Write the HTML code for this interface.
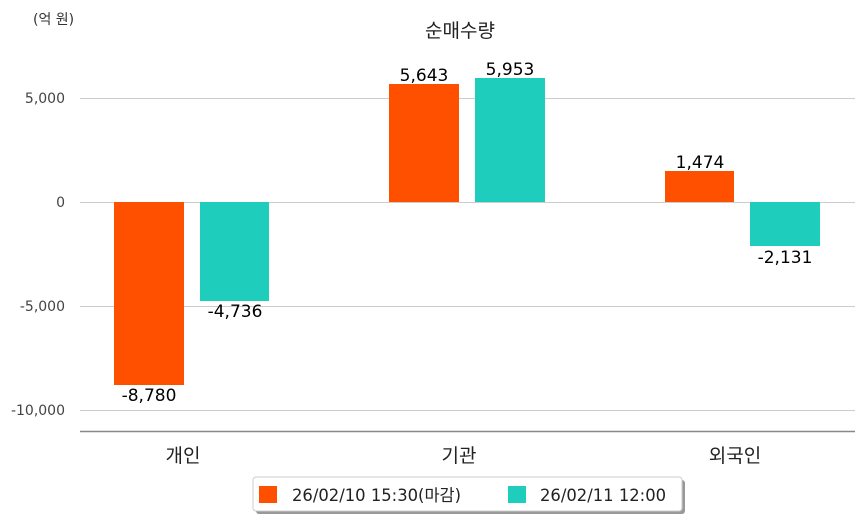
<!DOCTYPE html>
<html><head><meta charset="utf-8"><style>
body{margin:0;background:#fff;}
svg{display:block;font-family:"DejaVu Sans","Noto Sans CJK KR",sans-serif;}
</style></head><body>
<svg width="863" height="520" viewBox="0 0 863 520">
<text x="33" y="24" font-size="14" fill="#333">(억 원)</text>
<text x="460" y="37" font-size="19" fill="#222" text-anchor="middle">순매수량</text>
<g stroke="#cccccc" stroke-width="1">
<line x1="80" y1="98.5" x2="855" y2="98.5"/>
<line x1="80" y1="202.5" x2="855" y2="202.5"/>
<line x1="80" y1="306.5" x2="855" y2="306.5"/>
<line x1="80" y1="410.5" x2="855" y2="410.5"/>
</g>
<line x1="80" y1="431.5" x2="855" y2="431.5" stroke="#888" stroke-width="1.5"/>
<g font-size="14" fill="#444" text-anchor="end">
<text x="65" y="103">5,000</text>
<text x="65" y="207">0</text>
<text x="65" y="311">-5,000</text>
<text x="65" y="415">-10,000</text>
</g>
<g fill="#ff5000">
<rect x="114" y="202" width="70" height="183"/>
<rect x="389" y="84" width="70" height="118"/>
<rect x="665" y="171" width="69" height="31"/>
</g>
<g fill="#1ecdbc">
<rect x="200" y="202" width="69" height="99"/>
<rect x="475" y="78" width="70" height="124"/>
<rect x="750" y="202" width="70" height="44"/>
</g>
<g font-size="17" fill="#000" text-anchor="middle">
<text x="149" y="401">-8,780</text>
<text x="235" y="317">-4,736</text>
<text x="424" y="81">5,643</text>
<text x="510" y="75">5,953</text>
<text x="700" y="168">1,474</text>
<text x="785" y="263">-2,131</text>
</g>
<g font-size="19" fill="#222" text-anchor="middle">
<text x="183" y="462">개인</text>
<text x="459" y="462">기관</text>
<text x="735" y="462">외국인</text>
</g>
<rect x="256" y="480" width="429" height="34" rx="3" fill="#999"/>
<rect x="253" y="477" width="429" height="34" rx="3" fill="#fff" stroke="#ccc"/>
<rect x="259" y="486" width="18" height="17" fill="#ff5000"/>
<text x="292" y="501" font-size="16.4" fill="#222">26/02/10 15:30(마감)</text>
<rect x="508" y="486" width="18" height="17" fill="#1ecdbc"/>
<text x="540" y="501" font-size="16.4" fill="#222">26/02/11 12:00</text>
</svg>
</body></html>
